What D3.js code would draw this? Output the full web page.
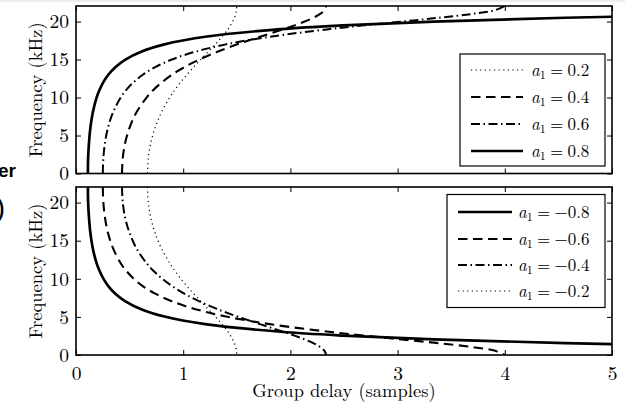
<!DOCTYPE html>
<html><head><meta charset="utf-8">
<script src="https://cdn.jsdelivr.net/npm/d3@7"></script>
<style>
html,body{margin:0;padding:0;background:#fff;}
svg{display:block;}
</style></head>
<body>
<svg id="chart" width="625" height="407"></svg>
<script>
// ---------------- data ----------------
const freqUp   = [0,2,4,6,8,10,11,12,13,14,15,16,17,18,19,19.5,20,20.5,21,21.5,22.05];           // kHz, top panel
const freqDown = [22.05,20.05,18.05,16.05,14.05,12.05,11.05,10.05,9.05,8.05,7.05,6.05,5.05,4.05,3.05,2.55,2.05,1.55,1.05,0.55,0]; // kHz, bottom panel
const delayA02 = [0.667,0.674,0.697,0.737,0.795,0.874,0.922,0.975,1.034,1.097,1.163,1.231,1.299,1.362,1.418,1.441,1.461,1.478,1.490,1.497,1.5];
const delayA04 = [0.429,0.436,0.458,0.499,0.562,0.658,0.722,0.801,0.896,1.011,1.150,1.314,1.505,1.716,1.934,2.038,2.133,2.214,2.277,2.318,2.333];
const delayA06 = [0.25,0.255,0.270,0.298,0.344,0.417,0.469,0.536,0.623,0.739,0.894,1.106,1.399,1.806,2.357,2.686,3.036,3.384,3.691,3.910,4.0];
const delayA08 = [0.111,0.113,0.121,0.134,0.156,0.192,0.219,0.254,0.301,0.367,0.461,0.602,0.825,1.204,1.908,2.493,3.341,4.566,6.221,8.016,9.0];
const topLabels    = ["0.2","0.4","0.6","0.8"];
const bottomLabels = ["\u22120.8","\u22120.6","\u22120.4","\u22120.2"];
const xTicks = [0,1,2,3,4,5];
const yTicks = [0,5,10,15,20];
const xTitle = "Group delay (samples)";
const yTitle = "Frequency (kHz)";

// ---------------- styles ----------------
const styles = {
  dotted:  {w:1.2, dash:"1.2,3.4"},
  dashed:  {w:2.1, dash:"9.5,5.5"},
  dashdot: {w:2.0, dash:"9,3.5,1.5,3.5"},
  solid:   {w:2.7, dash:null}
};

const svg = d3.select("#chart");
const FONT = "'Latin Modern Roman','CMU Serif','Liberation Serif',serif";
const FS_TICK = 19.5, FS_TITLE = 18.5, FS_LEG = 17;
svg.append("rect").attr("x",0).attr("y",0).attr("width",625).attr("height",407).attr("fill","#fff");
svg.append("rect").attr("x",0).attr("y",0).attr("width",625).attr("height",2).attr("fill","#ececec");

// cropped neighbouring text at left edge
svg.append("text").attr("x",16).attr("y",177).attr("text-anchor","end")
  .attr("font-family","'Liberation Sans',Arial,sans-serif").attr("font-weight","bold").attr("font-size",19).text("er");
svg.append("text").attr("x",5).attr("y",217).attr("text-anchor","end")
  .attr("font-family","'Liberation Sans',Arial,sans-serif").attr("font-size",28).text(")");

const X0 = 76, X1 = 612;
const x = d3.scaleLinear().domain([0,5]).range([X0,X1]);

const panels = [
  {top:6, bottom:173.5, freq:freqUp, showX:false,
   series:[{d:delayA02,s:"dotted",lab:topLabels[0]},{d:delayA04,s:"dashed",lab:topLabels[1]},
           {d:delayA06,s:"dashdot",lab:topLabels[2]},{d:delayA08,s:"solid",lab:topLabels[3]}],
   legend:{x:460,y:54,w:145,h:112,lx0:471,lx1:523,tx:531,rows:[70,97,124,151]}},
  {top:187, bottom:355, freq:freqDown, showX:true,
   series:[{d:delayA08,s:"solid",lab:bottomLabels[0]},{d:delayA06,s:"dashed",lab:bottomLabels[1]},
           {d:delayA04,s:"dashdot",lab:bottomLabels[2]},{d:delayA02,s:"dotted",lab:bottomLabels[3]}],
   legend:{x:447,y:194.5,w:158,h:113,lx0:458,lx1:512,tx:518,rows:[212,239,265,291]}}
];

panels.forEach((p,pi)=>{
  const y = d3.scaleLinear().domain([0,22.05]).range([p.bottom,p.top]);
  const g = svg.append("g");
  const clipId = "clip"+pi;
  svg.append("clipPath").attr("id",clipId).append("rect")
    .attr("x",X0).attr("y",p.top).attr("width",X1-X0).attr("height",p.bottom-p.top);

  // axes with inward ticks on all four sides
  const axB = d3.axisBottom(x).tickValues(xTicks).tickSizeInner(-5).tickSizeOuter(0).tickPadding(11)
      .tickFormat(p.showX ? d3.format("d") : ()=> "");
  const axT = d3.axisTop(x).tickValues(xTicks).tickSizeInner(-5).tickSizeOuter(0).tickFormat(()=> "");
  const axL = d3.axisLeft(y).tickValues(yTicks).tickSizeInner(-5).tickSizeOuter(0).tickPadding(7).tickFormat(d3.format("d"));
  const axR = d3.axisRight(y).tickValues(yTicks).tickSizeInner(-5).tickSizeOuter(0).tickFormat(()=> "");
  [[axB,`translate(0,${p.bottom})`],[axT,`translate(0,${p.top})`],[axL,`translate(${X0},0)`],[axR,`translate(${X1},0)`]]
    .forEach(([ax,tr])=>{
      const a = g.append("g").attr("transform",tr).call(ax);
      a.attr("font-family",FONT).attr("font-size",FS_TICK);
      a.select(".domain").remove();
      a.selectAll("line").attr("stroke","#000").attr("stroke-width",1);
      a.selectAll("text").attr("font-family",FONT).attr("font-size",FS_TICK).attr("fill","#000");
    });

  // curves
  const line = d3.line().x(d=>x(d[0])).y(d=>y(d[1])).curve(d3.curveCatmullRom.alpha(0.5));
  const cg = g.append("g").attr("clip-path",`url(#${clipId})`);
  p.series.forEach(s=>{
    const pts = s.d.map((v,i)=>[v,p.freq[i]]);
    const st = styles[s.s];
    cg.append("path").attr("d",line(pts)).attr("fill","none").attr("stroke","#000")
      .attr("stroke-width",st.w).attr("stroke-dasharray",st.dash).attr("stroke-linejoin","round");
  });

  // frame
  g.append("rect").attr("x",X0).attr("y",p.top).attr("width",X1-X0).attr("height",p.bottom-p.top)
    .attr("fill","none").attr("stroke","#000").attr("stroke-width",1.6);

  // y title
  g.append("text").attr("transform",`translate(41.5,${(p.top+p.bottom)/2}) rotate(-90)`)
    .attr("text-anchor","middle").attr("font-family",FONT).attr("font-size",FS_TITLE).text(yTitle);

  // legend
  const L = p.legend;
  const lg = g.append("g");
  lg.append("rect").attr("x",L.x).attr("y",L.y).attr("width",L.w).attr("height",L.h)
    .attr("fill","#fff").attr("stroke","#000").attr("stroke-width",1.2);
  p.series.forEach((s,k)=>{
    const st = styles[s.s], ry = L.rows[k];
    lg.append("line").attr("x1",L.lx0).attr("x2",L.lx1).attr("y1",ry).attr("y2",ry)
      .attr("stroke","#000").attr("stroke-width",st.w).attr("stroke-dasharray",st.dash);
    const t = lg.append("text").attr("x",L.tx).attr("y",ry+5.5).attr("font-family",FONT).attr("font-size",FS_LEG);
    t.append("tspan").attr("font-style","italic").text("a");
    t.append("tspan").attr("font-size",12).attr("dy",3.5).text("1");
    t.append("tspan").attr("dy",-3.5).text("\u2005=\u2005"+s.lab);
  });
});

// x title
svg.append("text").attr("x",(X0+X1)/2).attr("y",397).attr("text-anchor","middle")
  .attr("font-family",FONT).attr("font-size",FS_TITLE).text(xTitle);
</script>
</body></html>
